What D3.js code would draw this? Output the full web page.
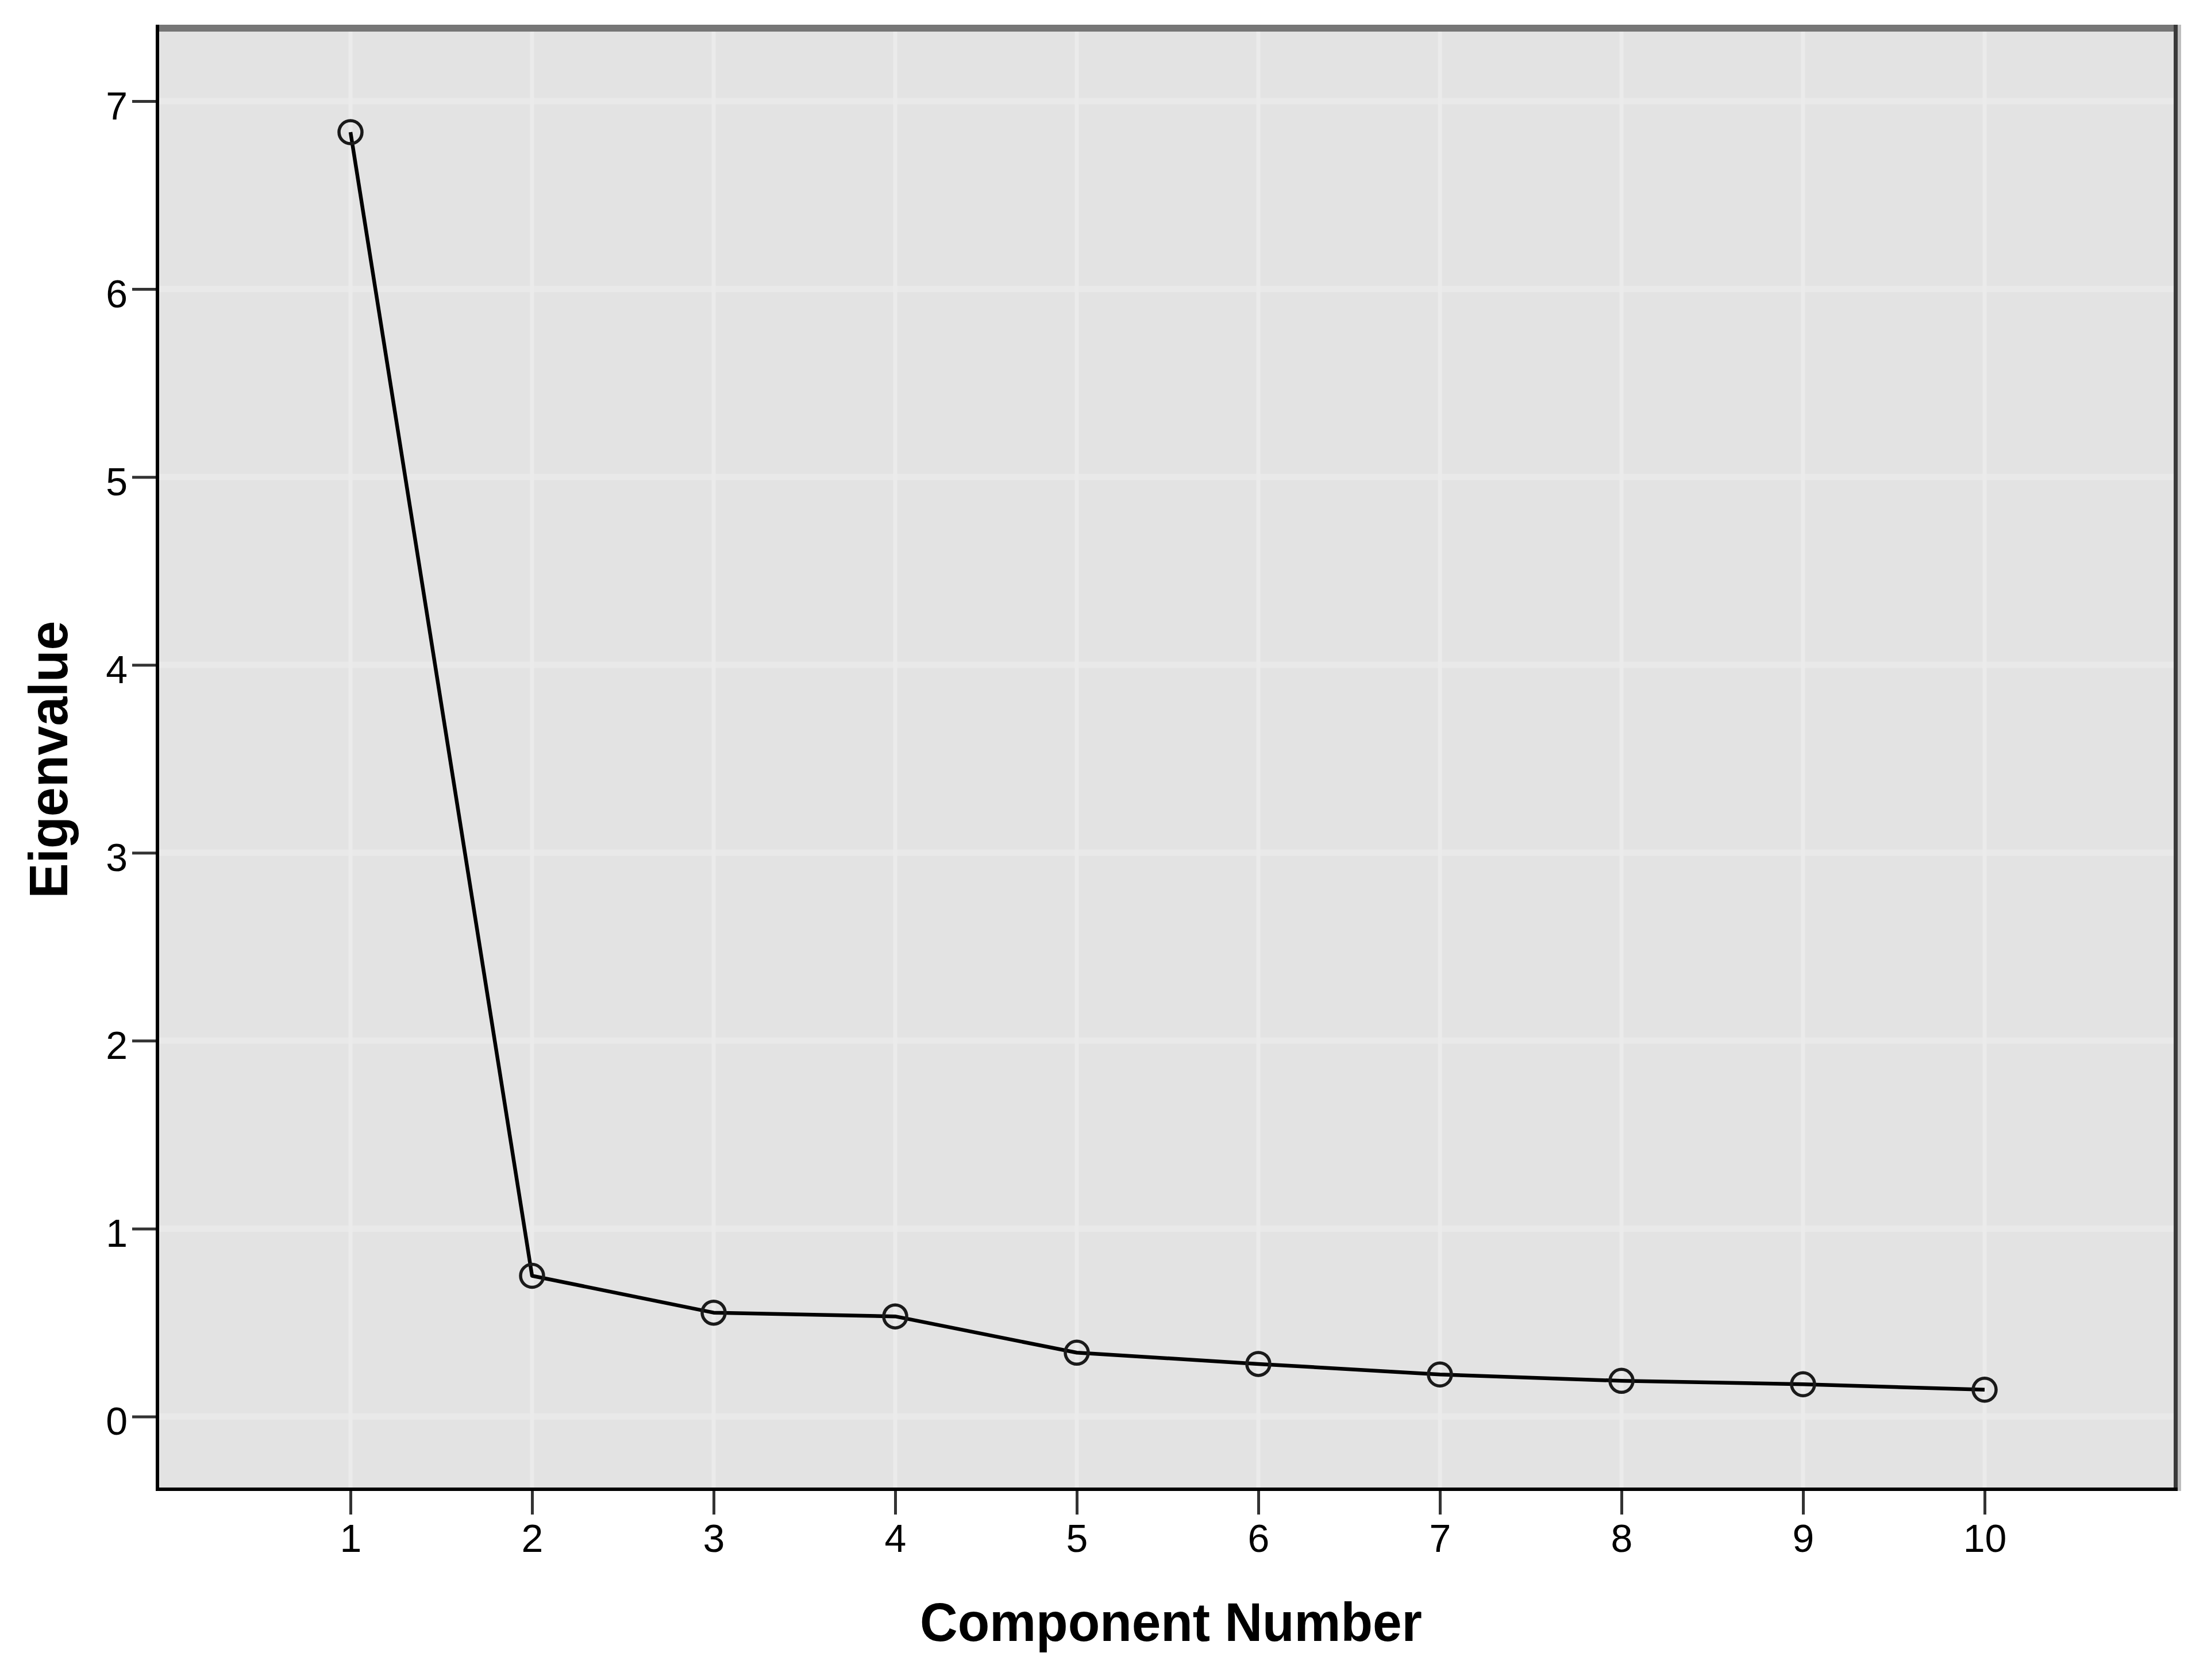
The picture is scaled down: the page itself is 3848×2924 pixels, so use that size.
<!DOCTYPE html>
<html>
<head>
<meta charset="utf-8">
<script src="https://cdn.jsdelivr.net/npm/d3@7/dist/d3.min.js"></script>
<style>
  html, body { margin: 0; padding: 0; background: #ffffff; }
  svg { display: block; }
  text { font-family: "Liberation Sans", Arial, sans-serif; }
</style>
</head>
<body>
<svg id="chart" width="3848" height="2924"></svg>
<script>
// ---- data ----
const components = [1, 2, 3, 4, 5, 6, 7, 8, 9, 10];
const eigenvalues = [6.835, 0.749, 0.553, 0.533, 0.34, 0.28, 0.224, 0.19, 0.172, 0.143];
const yTicks = [0, 1, 2, 3, 4, 5, 6, 7];
const xTicks = [1, 2, 3, 4, 5, 6, 7, 8, 9, 10];
const xTitle = "Component Number";
const yTitle = "Eigenvalue";

// ---- layout ----
const frame = { left: 274, right: 3787, top: 49, bottom: 2592 };
const svg = d3.select("#chart");

const x = d3.scaleLinear().domain([1, 10]).range([610, 3454]);
const y = d3.scaleLinear().domain([0, 7]).range([2465.5, 176]);

// plot background
svg.append("rect")
  .attr("x", frame.left).attr("y", frame.top)
  .attr("width", frame.right - frame.left).attr("height", frame.bottom - frame.top)
  .attr("fill", "#e3e3e3");

// grid lines
const grid = svg.append("g");
grid.selectAll("line.h").data(yTicks).join("line")
  .attr("class", "h")
  .attr("x1", frame.left).attr("x2", frame.right)
  .attr("y1", d => y(d)).attr("y2", d => y(d))
  .attr("stroke", "#e9e9e9").attr("stroke-width", 11);
grid.selectAll("line.v").data(xTicks).join("line")
  .attr("class", "v")
  .attr("y1", frame.top).attr("y2", frame.bottom)
  .attr("x1", d => x(d)).attr("x2", d => x(d))
  .attr("stroke", "#ebebeb").attr("stroke-width", 7);

// frame borders
svg.append("line")
  .attr("x1", frame.left - 3).attr("x2", frame.right + 3)
  .attr("y1", 49).attr("y2", 49)
  .attr("stroke", "#767676").attr("stroke-width", 12);
svg.append("line")
  .attr("x1", 3786.5).attr("x2", 3786.5)
  .attr("y1", 43).attr("y2", frame.bottom + 3)
  .attr("stroke", "#3a3a3a").attr("stroke-width", 7);
svg.append("line")
  .attr("x1", 3793).attr("x2", 3793)
  .attr("y1", 43).attr("y2", frame.bottom + 3)
  .attr("stroke", "#bdbdbd").attr("stroke-width", 6);

// axes
const yAxis = d3.axisLeft(y).tickValues(yTicks).tickSize(44).tickPadding(8).tickFormat(d3.format("d"));
const gy = svg.append("g").attr("transform", `translate(${frame.left},0)`).call(yAxis);
gy.select(".domain").remove();
gy.selectAll(".tick line").attr("stroke", "#333333").attr("stroke-width", 5);
gy.selectAll(".tick text")
  .attr("font-size", 68).attr("fill", "#000")
  .attr("font-family", "'Liberation Sans', Arial, sans-serif")
  .attr("dy", "31px");

const xAxis = d3.axisBottom(x).tickValues(xTicks).tickSize(44).tickFormat(d3.format("d"));
const gx = svg.append("g").attr("transform", `translate(0,${frame.bottom})`).call(xAxis);
gx.select(".domain").remove();
gx.selectAll(".tick line").attr("stroke", "#333333").attr("stroke-width", 5);
gx.selectAll(".tick text")
  .attr("font-size", 68).attr("fill", "#000")
  .attr("font-family", "'Liberation Sans', Arial, sans-serif")
  .attr("y", 109).attr("dy", 0);

// left & bottom axis lines
svg.append("line")
  .attr("x1", frame.left).attr("x2", frame.left)
  .attr("y1", 43).attr("y2", frame.bottom + 3)
  .attr("stroke", "#000").attr("stroke-width", 6);
svg.append("line")
  .attr("x1", frame.left - 3).attr("x2", frame.right + 3)
  .attr("y1", frame.bottom).attr("y2", frame.bottom)
  .attr("stroke", "#000").attr("stroke-width", 6);

// data line
const pts = components.map((c, i) => ({ c, v: eigenvalues[i] }));
svg.append("path")
  .datum(pts)
  .attr("fill", "none")
  .attr("stroke", "#000")
  .attr("stroke-width", 6.5)
  .attr("stroke-linejoin", "round")
  .attr("d", d3.line().x(d => x(d.c)).y(d => y(d.v)));

// markers
svg.append("g").selectAll("circle").data(pts).join("circle")
  .attr("cx", d => x(d.c)).attr("cy", d => y(d.v))
  .attr("r", 20)
  .attr("fill", "none")
  .attr("stroke", "#1a1a1a")
  .attr("stroke-width", 5.5);

// axis titles
svg.append("text")
  .attr("x", 2038).attr("y", 2856)
  .attr("text-anchor", "middle")
  .attr("font-size", 95).attr("font-weight", "bold")
  .attr("textLength", 874).attr("lengthAdjust", "spacingAndGlyphs")
  .text(xTitle);

svg.append("text")
  .attr("transform", "translate(117,1322) rotate(-90)")
  .attr("text-anchor", "middle")
  .attr("font-size", 95).attr("font-weight", "bold")
  .attr("textLength", 483).attr("lengthAdjust", "spacingAndGlyphs")
  .text(yTitle);
</script>
</body>
</html>
